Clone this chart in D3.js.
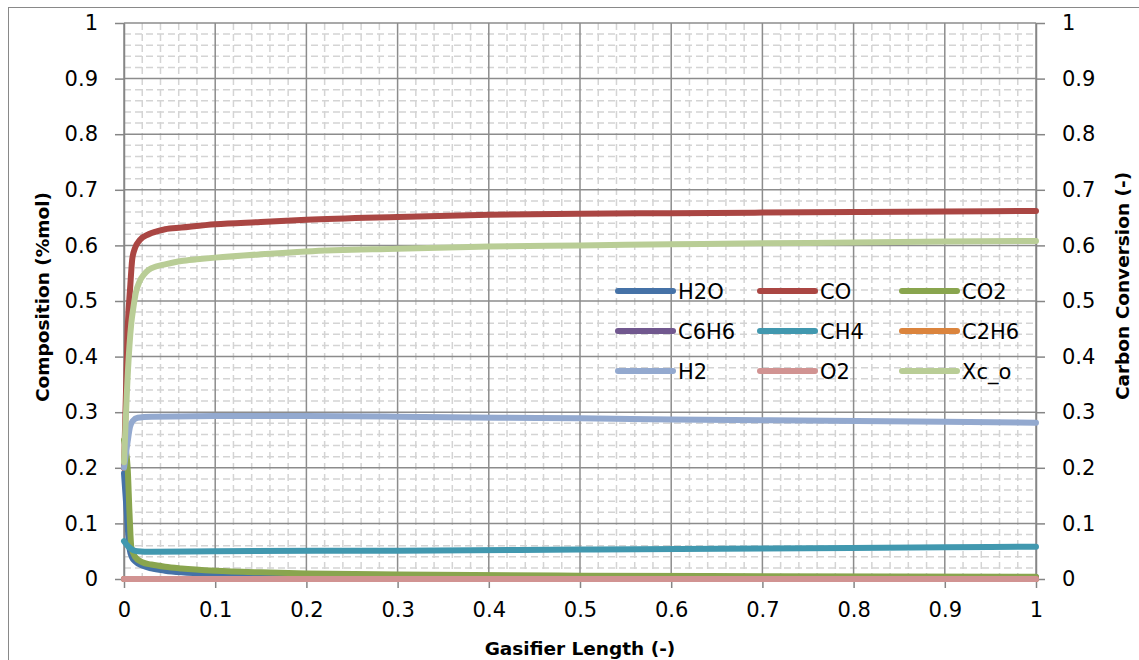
<!DOCTYPE html>
<html>
<head>
<meta charset="utf-8">
<script src="https://cdn.jsdelivr.net/npm/d3@7"></script>
<style>
  body { margin: 0; background: #fff; }
  svg { display: block; }
</style>
</head>
<body>
<div id="chart"></div>
<script>
// Series data (x = gasifier length, y = fraction)
const seriesNames = ["H2O", "CO", "CO2", "C6H6", "CH4", "C2H6", "H2", "O2", "Xc_o"];
const seriesColors = ["#4572A7", "#AA4643", "#89A54E", "#71588F", "#4198AF", "#DB843D", "#93A9CF", "#D19392", "#B9CD96"];

const h2o = [[0,0.19],[0.003,0.12],[0.006,0.055],[0.009,0.038],[0.012,0.032],[0.02,0.024],[0.03,0.019],[0.045,0.015],[0.063,0.012],[0.1,0.009],[0.2,0.006],[0.4,0.004],[0.7,0.003],[1,0.003]];
const co = [[0,0.2],[0.004,0.45],[0.007,0.53],[0.009,0.575],[0.012,0.595],[0.0175,0.61],[0.027,0.62],[0.045,0.629],[0.063,0.632],[0.1,0.638],[0.15,0.642],[0.2,0.646],[0.3,0.651],[0.4,0.655],[0.5,0.657],[0.6,0.658],[0.7,0.659],[0.8,0.66],[0.9,0.661],[1,0.662]];
const co2 = [[0,0.25],[0.004,0.2],[0.006,0.12],[0.008,0.058],[0.012,0.04],[0.02,0.03],[0.03,0.026],[0.045,0.022],[0.063,0.019],[0.1,0.015],[0.15,0.012],[0.2,0.01],[0.3,0.008],[0.5,0.006],[0.7,0.005],[1,0.004]];
const c6h6 = [[0,0],[0.5,0],[1,0]];
const ch4 = [[0,0.068],[0.005,0.058],[0.01,0.052],[0.015,0.05],[0.03,0.049],[0.1,0.05],[0.3,0.051],[0.5,0.053],[0.7,0.055],[0.9,0.057],[1,0.058]];
const c2h6 = [[0,0],[0.5,0],[1,0]];
const h2 = [[0,0.2],[0.004,0.247],[0.0066,0.274],[0.01,0.285],[0.015,0.29],[0.03,0.292],[0.1,0.293],[0.2,0.293],[0.3,0.292],[0.41,0.29],[0.5,0.289],[0.6,0.287],[0.74,0.285],[0.9,0.283],[1,0.281]];
const o2 = [[0,0],[0.5,0],[1,0]];
const xco = [[0,0.21],[0.003,0.33],[0.006,0.42],[0.008,0.46],[0.01,0.485],[0.013,0.515],[0.017,0.535],[0.022,0.548],[0.027,0.556],[0.035,0.562],[0.045,0.566],[0.063,0.572],[0.08,0.575],[0.1,0.578],[0.15,0.584],[0.2,0.589],[0.3,0.594],[0.4,0.598],[0.5,0.6],[0.6,0.602],[0.7,0.604],[0.8,0.605],[0.9,0.607],[1,0.608]];

const seriesData = [h2o, co, co2, c6h6, ch4, c2h6, h2, o2, xco];
const secondary = ["Xc_o"];

const xTicks = d3.range(0, 1.0001, 0.1);
const yTicks = d3.range(0, 1.0001, 0.1);

const width = 1139, height = 660;
const margin = { left: 124, right: 103, top: 23, bottom: 81 };

const svg = d3.select("#chart").append("svg")
  .attr("width", width)
  .attr("height", height);

// outer chart border
svg.append("rect")
  .attr("x", 8.5).attr("y", 7.5)
  .attr("width", width + 10).attr("height", height + 10)
  .attr("fill", "none")
  .attr("stroke", "#898989")
  .attr("stroke-width", 1);

const x = d3.scaleLinear().domain([0, 1]).range([margin.left, width - margin.right]);
const y = d3.scaleLinear().domain([0, 1]).range([height - margin.bottom, margin.top]);
const y2 = d3.scaleLinear().domain([0, 1]).range([height - margin.bottom, margin.top]);

const fmt = d => d === 0 ? "0" : d === 1 ? "1" : d3.format(".1f")(d);

// minor gridlines (dashed)
const minor = d3.range(0, 1.0001, 0.02).filter(v => Math.abs(Math.round(v * 10) - v * 10) > 1e-6);
const grid = svg.append("g");
grid.selectAll(".mx").data(minor).join("line")
  .attr("x1", d => x(d)).attr("x2", d => x(d))
  .attr("y1", y(1)).attr("y2", y(0))
  .attr("stroke", "#d4d4d4").attr("stroke-width", 1.5)
  .attr("stroke-dasharray", "7,4");
grid.selectAll(".my").data(minor).join("line")
  .attr("y1", d => y(d)).attr("y2", d => y(d))
  .attr("x1", x(0)).attr("x2", x(1))
  .attr("stroke", "#d4d4d4").attr("stroke-width", 1.5)
  .attr("stroke-dasharray", "7,4");

// major gridlines
grid.selectAll(".gx").data(xTicks).join("line")
  .attr("x1", d => x(d)).attr("x2", d => x(d))
  .attr("y1", y(1)).attr("y2", y(0))
  .attr("stroke", "#8c8c8c").attr("stroke-width", 1.5);
grid.selectAll(".gy").data(yTicks).join("line")
  .attr("y1", d => y(d)).attr("y2", d => y(d))
  .attr("x1", x(0)).attr("x2", x(1))
  .attr("stroke", "#8c8c8c").attr("stroke-width", 1.5);

// axes
const tickFont = "DejaVu Sans, sans-serif";
function styleAxis(g) {
  g.select(".domain").attr("stroke", "#868686").attr("stroke-width", 1.5);
  g.selectAll(".tick line").attr("stroke", "#868686").attr("stroke-width", 1.5);
  g.selectAll(".tick text").attr("fill", "#000").style("font-family", tickFont).style("font-size", "21px");
}

svg.append("g")
  .attr("transform", `translate(0,${y(0)})`)
  .call(d3.axisBottom(x).tickValues(xTicks).tickFormat(fmt).tickSize(9).tickPadding(14).tickSizeOuter(0))
  .call(styleAxis);

svg.append("g")
  .attr("transform", `translate(${x(0)},0)`)
  .call(d3.axisLeft(y).tickValues(yTicks).tickFormat(fmt).tickSize(9).tickPadding(17).tickSizeOuter(0))
  .call(styleAxis);

svg.append("g")
  .attr("transform", `translate(${x(1)},0)`)
  .call(d3.axisRight(y2).tickValues(yTicks).tickFormat(fmt).tickSize(9).tickPadding(17).tickSizeOuter(0))
  .call(styleAxis);

// series lines
const lineFor = scale => d3.line()
  .x(d => x(d[0]))
  .y(d => scale(d[1]))
  .curve(d3.curveMonotoneX);

const lines = svg.append("g");
seriesNames.forEach((name, i) => {
  const sc = secondary.includes(name) ? y2 : y;
  lines.append("path")
    .datum(seriesData[i])
    .attr("d", lineFor(sc))
    .attr("fill", "none")
    .attr("stroke", seriesColors[i])
    .attr("stroke-width", 6)
    .attr("stroke-linejoin", "round")
    .attr("stroke-linecap", "round");
});

// legend (3 columns)
const legend = svg.append("g");
const legX = [618, 760, 902], legY0 = 291, legDy = 40;
seriesNames.forEach((name, i) => {
  const cx = legX[i % 3], cy = legY0 + Math.floor(i / 3) * legDy;
  legend.append("line")
    .attr("x1", cx).attr("x2", cx + 55)
    .attr("y1", cy).attr("y2", cy)
    .attr("stroke", seriesColors[i])
    .attr("stroke-width", 6)
    .attr("stroke-linecap", "round");
  legend.append("text")
    .attr("x", cx + 60).attr("y", cy)
    .attr("dy", "0.36em")
    .style("font-family", tickFont)
    .style("font-size", "21px")
    .text(name);
});

// axis titles
const titleFont = "DejaVu Sans, sans-serif";
svg.append("text")
  .attr("x", (x(0) + x(1)) / 2).attr("y", 655)
  .attr("text-anchor", "middle")
  .style("font-family", titleFont).style("font-weight", "bold").style("font-size", "18.5px")
  .text("Gasifier Length (-)");

svg.append("text")
  .attr("transform", `translate(49,297) rotate(-90)`)
  .attr("text-anchor", "middle")
  .style("font-family", titleFont).style("font-weight", "bold").style("font-size", "18.5px")
  .text("Composition (%mol)");

svg.append("text")
  .attr("transform", `translate(1129,286) rotate(-90)`)
  .attr("text-anchor", "middle")
  .style("font-family", titleFont).style("font-weight", "bold").style("font-size", "18.5px")
  .text("Carbon Conversion (-)");
</script>
</body>
</html>
